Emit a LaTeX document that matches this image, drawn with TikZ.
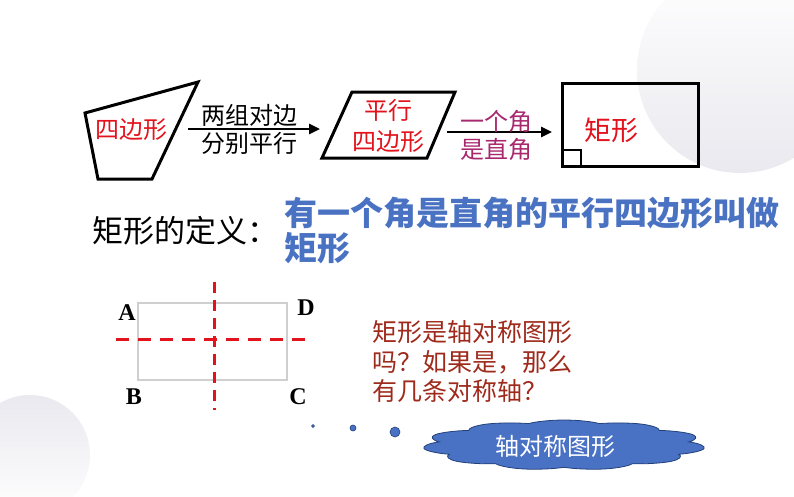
\documentclass[tikz,border=0pt]{standalone}
\usepackage{fontspec}
\usepackage{tikz}
\usetikzlibrary{arrows.meta,positioning,shapes.symbols,calc}
\newfontfamily\cjk{Noto Sans CJK SC}
\newfontfamily\lettersf{Liberation Serif}
\definecolor{shapered}{HTML}{E2131C}
\definecolor{labelpurple}{HTML}{A8286E}
\definecolor{defblue}{HTML}{4A72C2}
\definecolor{askred}{HTML}{9E2A1C}
\definecolor{cloudblue}{HTML}{4A72C4}
\definecolor{cloudedge}{HTML}{22407A}
\definecolor{bggray}{HTML}{E9E9EF}
\definecolor{framegray}{HTML}{CFCFCF}

\begin{document}
\begin{tikzpicture}[x=1pt, y=-1pt, >={Triangle[length=11pt,width=10pt]},
  every node/.style={inner sep=0pt},
  shapeline/.style={line width=3pt, line join=miter},
  steparrow/.style={->, line width=2.6pt},
  redtext/.style={text=shapered, font=\cjk\fontsize{24}{28}\selectfont},
  steplabel/.style={font=\cjk\fontsize{24}{28}\selectfont},
  vertex/.style={font=\lettersf\bfseries\fontsize{24}{26}\selectfont},
  axisline/.style={shapered, line width=3pt, dash pattern=on 13pt off 9pt}]
  \useasboundingbox (0,0) rectangle (794,496);

  % soft background circles
  \begin{scope}
    \clip (0,0) rectangle (794,496);
    \shade[top color=white, bottom color=bggray] (740,70) circle [radius=103];
    \shade[top color=bggray, bottom color=white] (30,455) circle [radius=60];
  \end{scope}

  % quadrilateral -> parallelogram -> rectangle
  \draw[shapeline] (85,113) -- (198,82) -- (152,179) -- (98,179) -- cycle;
  \node[redtext] (quadtxt) at (131,130) {四边形};

  \draw[shapeline] (352,92) -- (455,92) -- (427,158) -- (322,158) -- cycle;
  \node[redtext] (paratop) at (388,110) {平行};
  \node[redtext] (parabot) at (388,142) {四边形};

  \draw[shapeline] (562,83) rectangle (698,166);
  \draw[line width=2pt] (562,150) -| (581,166);
  \node[redtext, font=\cjk\fontsize{27}{30}\selectfont] (recttxt) at (611,130) {矩形};

  \coordinate (quadR) at (188,129);
  \coordinate (paraL) at (320,129);
  \coordinate (paraR) at (447,132);
  \coordinate (rectL) at (552,132);
  \draw[steparrow] (quadR) -- (paraL);
  \draw[steparrow] (paraR) -- (rectL);

  \node[steplabel] (cond1a) at (249,115) {两组对边};
  \node[steplabel] (cond1b) at (249,143) {分别平行};
  \node[steplabel, text=labelpurple] (cond2a) at (496,121) {一个角};
  \node[steplabel, text=labelpurple] (cond2b) at (496,149) {是直角};

  % definition
  \node[anchor=west, font=\cjk\fontsize{31}{34}\selectfont] (deflabel) at (92,231) {矩形的定义：};
  \node[anchor=west, text=defblue, font=\cjk\bfseries\fontsize{33}{36}\selectfont] (defline1) at (284,213) {有一个角是直角的平行四边形叫做};
  \node[anchor=west, text=defblue, font=\cjk\bfseries\fontsize{33}{36}\selectfont] (defline2) at (284,248) {矩形};

  % rectangle ABCD with its two axes
  \coordinate (A) at (138,303);
  \coordinate (C) at (287,380);
  \draw[framegray, line width=1.5pt] (A) rectangle (C);
  \coordinate (hleft) at (116,339);
  \coordinate (hright) at (313,339);
  \coordinate (vtop) at (214,282);
  \coordinate (vbot) at (214,410);
  \draw[axisline] (hleft) -- (hright);
  \draw[axisline, dash pattern=on 11pt off 7pt] (vtop) -- (vbot);
  \node[vertex] (labA) at (127,313) {A};
  \node[vertex] (labD) at (306,308) {D};
  \node[vertex] (labB) at (134,397) {B};
  \node[vertex] (labC) at (298,397) {C};

  % question and answer
  \node[anchor=west, text=askred, align=left, font=\cjk\fontsize{25}{29.5}\selectfont] (question) at (372,362) {矩形是轴对称图形\\吗？如果是，那么\\有几条对称轴？};

  \fill[cloudblue, draw=cloudedge, line width=0.6pt] (313,426) circle [radius=1.5];
  \fill[cloudblue, draw=cloudedge, line width=0.6pt] (353,428) circle [radius=3];
  \fill[cloudblue, draw=cloudedge, line width=0.6pt] (395,432) circle [radius=5];
  \begin{scope}[shift={(564,445)}, xscale=2.83, yscale=0.5]
    \node[cloud, cloud puffs=11, cloud puff arc=120, aspect=1, fill=cloudblue, draw=cloudedge,
      line width=0.8pt, minimum width=100pt, minimum height=100pt, transform shape] (answer) at (0,0) {};
  \end{scope}
  \node[text=white, font=\cjk\fontsize{24}{28}\selectfont] (answertxt) at (555,446) {轴对称图形};
\end{tikzpicture}
\end{document}
